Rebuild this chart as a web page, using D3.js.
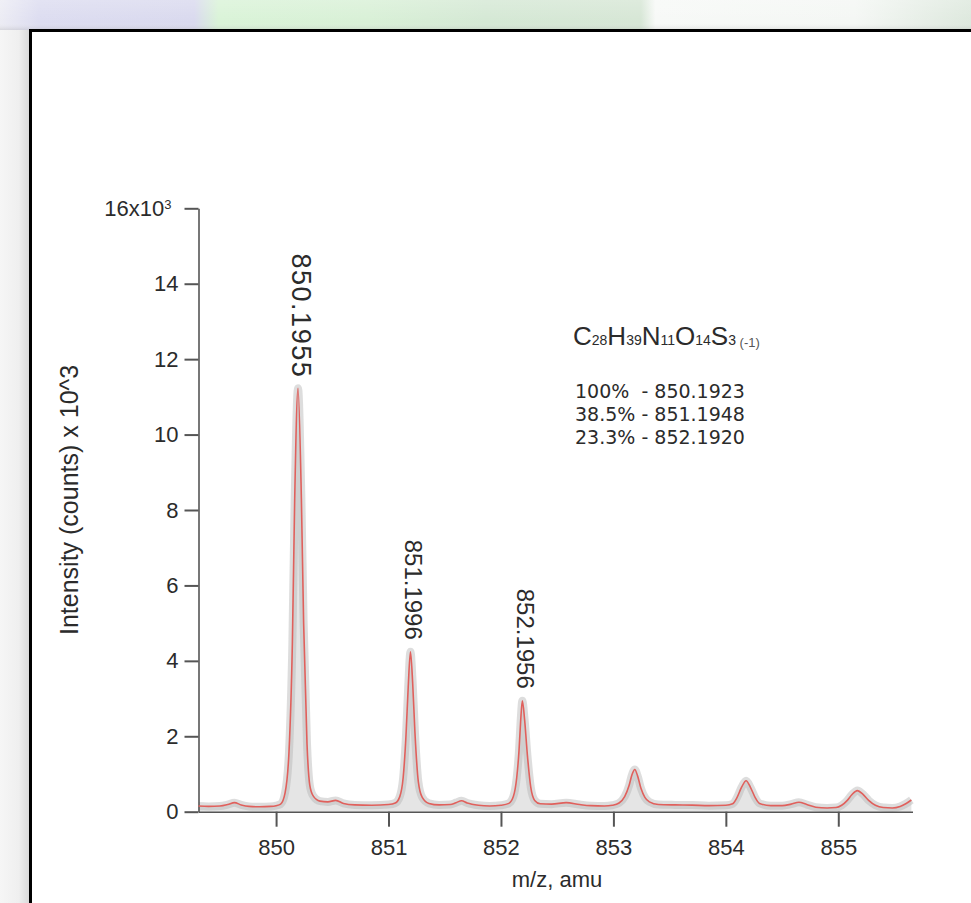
<!DOCTYPE html>
<html><head><meta charset="utf-8">
<script src="https://cdn.jsdelivr.net/npm/d3@7"></script>
<style>
body{margin:0;background:#fff;}
svg{display:block;}
text{font-family:"Liberation Sans",Arial,sans-serif;fill:#2b2b2b;}
</style>
</head><body><div id="chart"></div>
<script>
// ---------- data ----------
const mz = [
  849.31,849.40,849.50,849.57,849.63,849.69,849.76,849.85,849.95,850.00,
  850.04,850.08,850.115,850.145,850.165,850.195,850.225,850.245,850.275,850.30,850.33,850.39,850.46,850.53,850.60,850.70,850.85,851.00,
  851.06,851.10,851.13,851.155,851.175,851.195,851.215,851.235,851.265,851.30,851.36,851.45,851.55,851.60,851.65,851.70,851.80,851.90,852.00,
  852.07,852.11,852.14,852.16,852.175,852.19,852.21,852.235,852.265,852.30,852.35,852.45,852.58,852.70,852.80,852.92,852.99,
  853.05,853.10,853.14,853.165,853.19,853.215,853.245,853.28,853.32,853.40,853.55,853.70,853.85,854.00,
  854.06,854.10,854.14,854.18,854.22,854.26,854.30,854.40,854.50,854.58,854.65,854.72,854.80,854.90,854.98,
  855.03,855.08,855.12,855.17,855.22,855.27,855.33,855.40,855.48,855.55,855.60,855.65
];
const counts = [
  150,140,150,190,240,180,140,130,140,160,
  200,500,1600,4500,8200,11230,8300,5000,1800,700,420,280,260,300,220,180,170,190,
  230,400,900,2000,3300,4240,3400,2100,800,380,220,180,190,240,290,230,170,150,170,
  220,400,900,1600,2400,2940,2450,1500,650,300,210,200,240,190,160,150,170,
  230,400,700,980,1120,950,620,380,260,190,180,175,160,170,
  210,380,650,820,640,380,220,160,160,200,250,190,120,100,110,
  170,300,450,560,460,300,170,110,100,140,210,310
];
const yTickValues = [0,2000,4000,6000,8000,10000,12000,14000,16000];
const yTickLabels = ["0","2","4","6","8","10","12","14","16x10"];
const xTickValues = [850,851,852,853,854,855];
const peakMz = [850.195,851.195,852.19];
const peakCounts = [11230,4240,2940];
const peakLabels = ["850.1955","851.1996","852.1956"];
const formulaElements = ["C","H","N","O","S"];
const formulaCounts = ["28","39","11","14","3"];
const formulaCharge = " (-1)";
const isotopeLines = ["100%  - 850.1923","38.5% - 851.1948","23.3% - 852.1920"];
const xTitle = "m/z, amu";
const yTitle = "Intensity (counts) x 10^3";

// ---------- svg ----------
const W = 971, H = 903;
const svg = d3.select("#chart").append("svg").attr("width", W).attr("height", H);
const defs = svg.append("defs");

const gTop = defs.append("linearGradient").attr("id","gTop");
[[0,"#ececf4"],[0.04,"#dcdcf0"],[0.2,"#d9d9ee"],[0.225,"#d9f3d7"],[0.38,"#d8f0d6"],[0.5,"#d4e8d4"],[0.66,"#d6e6d5"],[0.675,"#f7f9f7"],[0.88,"#f4f7f4"],[1,"#dde8dd"]]
  .forEach(([o,c]) => gTop.append("stop").attr("offset",o).attr("stop-color",c));
const gTopV = defs.append("linearGradient").attr("id","gTopV").attr("x1",0).attr("y1",0).attr("x2",0).attr("y2",1);
gTopV.append("stop").attr("offset",0).attr("stop-color","#fff").attr("stop-opacity",0.2);
gTopV.append("stop").attr("offset",0.7).attr("stop-color","#fff").attr("stop-opacity",0);
gTopV.append("stop").attr("offset",1).attr("stop-color","#777").attr("stop-opacity",0.3);
const gLeft = defs.append("linearGradient").attr("id","gLeft");
gLeft.append("stop").attr("offset",0).attr("stop-color","#f6f6f6");
gLeft.append("stop").attr("offset",0.6).attr("stop-color","#efefef");
gLeft.append("stop").attr("offset",1).attr("stop-color","#d6d6d6");

svg.append("rect").attr("width",W).attr("height",H).attr("fill","#fff");
svg.append("rect").attr("x",0).attr("y",0).attr("width",W).attr("height",32).attr("fill","url(#gTop)");
svg.append("rect").attr("x",0).attr("y",0).attr("width",W).attr("height",32).attr("fill","url(#gTopV)");
svg.append("rect").attr("x",0).attr("y",30).attr("width",31).attr("height",H-30).attr("fill","url(#gLeft)");
svg.append("rect").attr("x",30.5).attr("y",30.5).attr("width",1000).attr("height",1000)
  .attr("fill","#fff").attr("stroke","#000").attr("stroke-width",3);

// ---------- scales ----------
const x = d3.scaleLinear().domain([849.31, 855.66]).range([198.5, 912.5]);
const y = d3.scaleLinear().domain([0, 16000]).range([811.7, 208.3]);

const data = mz.map((m,i) => ({m, c: counts[i]}));

// grey raw-data halo
const area = d3.area().x(d => x(d.m)).y0(y(0)).y1(d => y(d.c)).curve(d3.curveMonotoneX);
svg.append("path").datum(data).attr("d", area).attr("fill","#d0d0d0").attr("opacity",0.55);
const line = d3.line().x(d => x(d.m)).y(d => y(d.c)).curve(d3.curveMonotoneX);
svg.append("path").datum(data).attr("d", line).attr("fill","none")
  .attr("stroke","#b4b4b4").attr("stroke-width",8).attr("opacity",0.45);

// ---------- axes ----------
const yAxis = d3.axisLeft(y).tickValues(yTickValues).tickSize(14).tickSizeOuter(0).tickPadding(6)
  .tickFormat((d,i) => yTickLabels[i]);
const gy = svg.append("g").attr("transform","translate(198.5,0)").call(yAxis);
const xAxis = d3.axisBottom(x).tickValues(xTickValues).tickSize(15).tickSizeOuter(0).tickPadding(13)
  .tickFormat(d3.format("d"));
const gx = svg.append("g").attr("transform","translate(0,811.7)").call(xAxis);

[gx, gy].forEach(g => {
  g.attr("font-family", null).attr("font-size", 22);
  g.selectAll("path.domain").attr("stroke","#555").attr("stroke-width",1.6);
  g.selectAll(".tick line").attr("stroke","#555").attr("stroke-width",2);
  g.selectAll(".tick text").attr("fill","#2b2b2b");
});
// superscript on top tick label
gy.selectAll(".tick").filter(d => d === 16000).select("text")
  .attr("dx", "-7")
  .append("tspan").attr("dy","-0.55em").attr("font-size",13).text("3");

// spectrum line
svg.append("path").datum(data).attr("d", line).attr("fill","none")
  .attr("stroke","#e0605c").attr("stroke-width",1.6);

// ---------- peak labels ----------
svg.selectAll("text.peak").data(peakLabels).join("text").attr("class","peak")
  .attr("font-size",(d,i) => i === 0 ? 27 : 24)
  .attr("text-anchor","end")
  .attr("dominant-baseline","central")
  .style("letter-spacing",(d,i) => i === 0 ? "1.5px" : null)
  .attr("transform",(d,i) => `translate(${x(peakMz[i]) + 3},${y(peakCounts[i]) - (i === 0 ? 10 : 12)}) rotate(90)`)
  .text(d => d);

// ---------- axis titles ----------
svg.append("text").attr("x",557).attr("y",887).attr("font-size",22)
  .attr("text-anchor","middle").text(xTitle);
svg.append("text").attr("transform","translate(78,635) rotate(-90)").attr("font-size",25)
  .attr("text-anchor","start").text(yTitle);

// ---------- formula & isotope annotation ----------
const ft = svg.append("text").attr("x",573).attr("y",345);
formulaElements.forEach((el,i) => {
  ft.append("tspan").attr("font-size",26).text(el);
  ft.append("tspan").attr("font-size",14).text(formulaCounts[i]);
});
ft.append("tspan").attr("font-size",13).attr("dy",2).attr("fill","#555").style("white-space","pre").text(formulaCharge);

svg.selectAll("text.iso").data(isotopeLines).join("text").attr("class","iso")
  .attr("x",575).attr("y",(d,i) => 398 + i*23)
  .attr("font-size",19).style("font-family","'DejaVu Sans',sans-serif")
  .style("white-space","pre").text(d => d);
</script>
</body></html>
